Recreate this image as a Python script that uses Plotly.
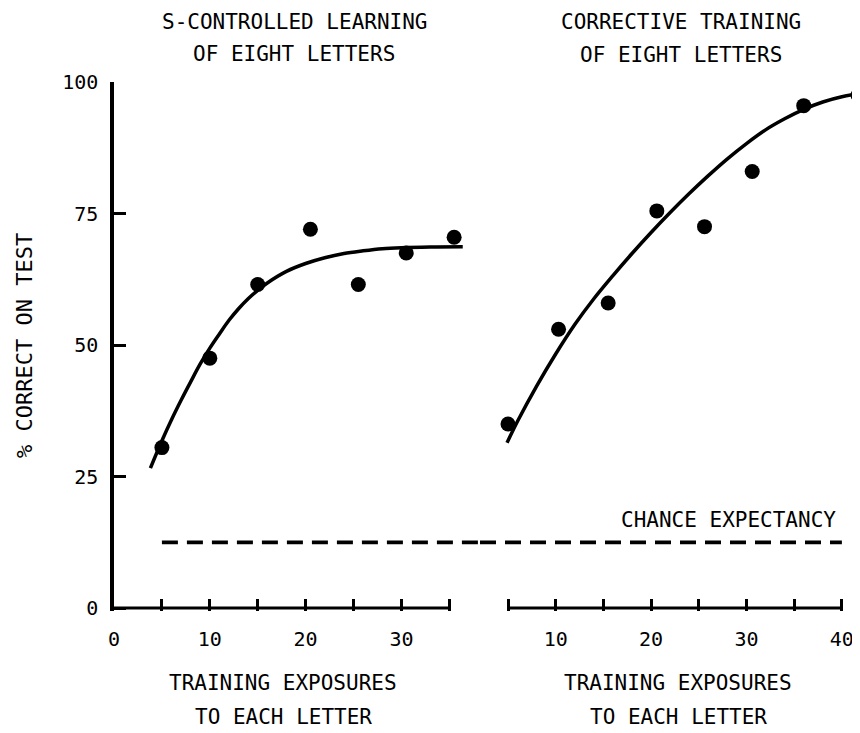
import plotly.graph_objects as go

# data
learn_x = [5, 10, 15, 20.5, 25.5, 30.5, 35.5]
learn_y = [30.5, 47.5, 61.5, 72, 61.5, 67.5, 70.5]
learn_fit_x = [3.8, 5, 6, 7, 8, 9, 10, 11, 12, 13, 14, 15, 16, 18, 20, 22, 24, 26, 28, 30, 33, 36.4]
learn_fit_y = [26.6, 31.8, 35.8, 39.5, 43.0, 46.4, 49.4, 52.1, 54.7, 56.9, 58.8, 60.4, 61.8,
               64.0, 65.5, 66.6, 67.4, 67.9, 68.3, 68.5, 68.65, 68.7]

corr_x = [5, 10.3, 15.5, 20.6, 25.6, 30.6, 36, 41.7]
corr_y = [35, 53, 58, 75.5, 72.5, 83, 95.5, 97.5]
corr_fit_x = [4.9, 6, 8, 10, 12, 14, 16, 18, 20, 22, 24, 26, 28, 30, 32, 34, 36, 38, 40, 41.9]
corr_fit_y = [31.4, 35.5, 42.2, 48.3, 53.9, 58.8, 63.2, 67.4, 71.4, 75.2, 78.8, 82.2, 85.4,
              88.3, 90.9, 93.0, 94.8, 96.2, 97.2, 97.8]

chance = 12.5

left_ticks = [0, 5, 10, 15, 20, 25, 30, 35]
left_ticktext = ["0", "", "10", "", "20", "", "30", ""]
right_ticks = [5, 10, 15, 20, 25, 30, 35, 40]
right_ticktext = ["", "10", "", "20", "", "30", "", "40"]
y_ticks = [0, 25, 50, 75, 100]

FONT = "DejaVu Sans Mono"
# the page body has an 8px margin, so the figure is drawn 8px in from the corner
OFF = 8
W, H = 860 - OFF, 733 - OFF


def px_x(p):
    return (p - OFF) / W


def px_y(p):
    return 1 - (p - OFF) / H


left_range = [0, 38.2]
right_range = [2.065, 41.9]
y_range = [-0.6, 100]

fig = go.Figure()

# left panel
fig.add_trace(go.Scatter(x=[5, left_range[1]], y=[chance, chance], mode="lines",
                         line=dict(color="black", width=3.8, dash="16px,9px"),
                         xaxis="x", yaxis="y"))
fig.add_trace(go.Scatter(x=learn_fit_x, y=learn_fit_y, mode="lines", line_shape="spline",
                         line=dict(color="black", width=3.5), xaxis="x", yaxis="y"))
fig.add_trace(go.Scatter(x=learn_x, y=learn_y, mode="markers",
                         marker=dict(color="black", size=15), xaxis="x", yaxis="y",
                         cliponaxis=False))

# right panel
fig.add_trace(go.Scatter(x=[right_range[0], 40], y=[chance, chance], mode="lines",
                         line=dict(color="black", width=3.8, dash="16px,9px"),
                         xaxis="x2", yaxis="y2"))
fig.add_trace(go.Scatter(x=corr_fit_x, y=corr_fit_y, mode="lines", line_shape="spline",
                         line=dict(color="black", width=3.5), xaxis="x2", yaxis="y2"))
fig.add_trace(go.Scatter(x=corr_x, y=corr_y, mode="markers",
                         marker=dict(color="black", size=15), xaxis="x2", yaxis="y2",
                         cliponaxis=False))

tickfont = dict(family=FONT, size=20, color="black")
xcommon = dict(showgrid=False, zeroline=False, showline=False, ticks="inside", ticklen=12,
               tickwidth=3, tickcolor="black", tickfont=tickfont, automargin=False,
               ticklabelstandoff=14, fixedrange=True)
ydomain = [px_y(611.2), px_y(82)]

fig.update_layout(
    width=W, height=H,
    margin=dict(l=0, r=0, t=0, b=0),
    paper_bgcolor="white", plot_bgcolor="white",
    showlegend=False,
    xaxis=dict(domain=[px_x(114), px_x(480)], range=left_range, anchor="y",
               tickvals=left_ticks, ticktext=left_ticktext, **xcommon),
    xaxis2=dict(domain=[px_x(480), 1.0], range=right_range, anchor="y2",
                tickvals=right_ticks, ticktext=right_ticktext, **xcommon),
    yaxis=dict(domain=ydomain, range=y_range, anchor="x", showgrid=False, zeroline=False,
               showline=True, linewidth=3.5, linecolor="black", ticks="inside", ticklen=12,
               tickwidth=3, tickcolor="black", tickvals=y_ticks, tickfont=tickfont,
               ticklabelstandoff=8, automargin=False),
    yaxis2=dict(domain=ydomain, range=y_range, anchor="x2", visible=False),
    shapes=[
        dict(type="line", xref="x", yref="y", x0=0, x1=35, y0=0, y1=0,
             line=dict(color="black", width=3)),
        dict(type="line", xref="x2", yref="y2", x0=5, x1=40, y0=0, y1=0,
             line=dict(color="black", width=3)),
    ],
)


def label(text, px, py, anchor="center", angle=0, size=21):
    fig.add_annotation(text=text, x=px_x(px), y=px_y(py), xref="paper", yref="paper",
                       xanchor=anchor, yanchor="middle", showarrow=False, textangle=angle,
                       font=dict(family=FONT, size=size, color="black"))


label("S-CONTROLLED LEARNING", 295, 22)
label("OF EIGHT LETTERS", 294, 54)
label("CORRECTIVE TRAINING", 681, 22)
label("OF EIGHT LETTERS", 681, 55)
label("TRAINING EXPOSURES", 283, 683)
label("TO EACH LETTER", 283, 717)
label("TRAINING EXPOSURES", 678, 683)
label("TO EACH LETTER", 678, 717)
label("CHANCE EXPECTANCY", 838, 520, anchor="right")
label("% CORRECT ON TEST", 25, 346, angle=-90, size=22)

fig.write_html("out.html")
